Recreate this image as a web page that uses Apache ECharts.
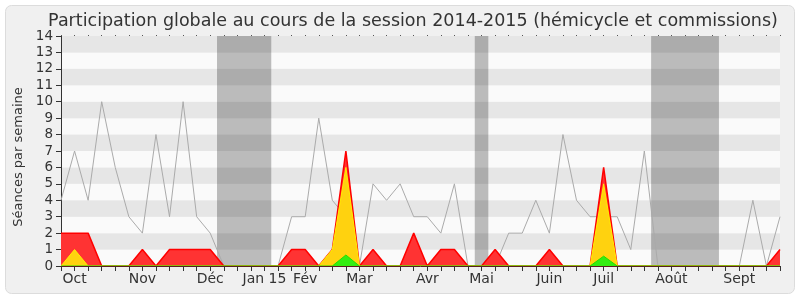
<!DOCTYPE html>
<html>
<head>
<meta charset="utf-8">
<script src="https://cdn.jsdelivr.net/npm/echarts@6/dist/echarts.min.js"></script>
<style>
html,body{margin:0;padding:0;background:#fff;}
#c{width:800px;height:300px;}
</style>
</head>
<body>
<div id="c"></div>
<script>
// Weekly data, session 2014-2015 (54 weeks)
var totalSeances = [4,7,4,10,6,3,2,8,3,10,3,2,0,0,0,0,0,3,3,9,4,3,0,5,4,5,3,3,2,5,0,0,0,2,2,4,2,8,4,3,3,3,1,7,0,0,0,0,0,0,0,4,0,3];
var presences    = [2,2,2,0,0,0,1,0,1,1,1,1,0,0,0,0,0,1,1,0,1,7,0,1,0,0,2,0,1,1,0,0,1,0,0,0,1,0,0,0,6,0,0,0,0,0,0,0,0,0,0,0,0,1];
var interventions= [0,1,0,0,0,0,0,0,0,0,0,0,0,0,0,0,0,0,0,0,1,6,0,0,0,0,0,0,0,0,0,0,0,0,0,0,0,0,0,0,5,0,0,0,0,0,0,0,0,0,0,0,0,0];
var questions    = [0,0,0,0,0,0,0,0,0,0,0,0,0,0,0,0,0,0,0,0,0,0.67,0,0,0,0,0,0,0,0,0,0,0,0,0,0,0,0,0,0,0.6,0,0,0,0,0,0,0,0,0,0,0,0,0];
var monthLabels = {1:'Oct',6:'Nov',11:'Déc',15:'Jan 15',18:'Fév',22:'Mar',27:'Avr',31:'Mai',36:'Juin',40:'Juil',45:'Août',50:'Sept'};
var vacances = [[11.5,15.5],[30.5,31.5],[43.5,48.5]];
var titre = 'Participation globale au cours de la session 2014-2015 (hémicycle et commissions)';
var yLabel = 'Séances par semaine';

function pts(arr){ return arr.map(function(v,i){ return [i,v]; }); }

var chart = echarts.init(document.getElementById('c'), null, {renderer:'canvas'});
var font = 'DejaVu Sans';
chart.setOption({
  animation:false,
  backgroundColor:'#ffffff',
  textStyle:{fontFamily:font},
  graphic:[
    {type:'rect', z:-100, shape:{x:5.5,y:5.5,width:789,height:288,r:6}, style:{fill:'#f0f0f0', stroke:'#dcdcdc', lineWidth:1}},
    {type:'text', z:10, x:19, y:157, rotation:Math.PI/2, style:{text:yLabel, fontFamily:font, fontSize:13, fill:'#333', align:'center', verticalAlign:'middle'}}
  ],
  title:{text:titre, left:408, top:7, textAlign:'center', textStyle:{fontFamily:font, fontSize:17.5, fontWeight:'normal', color:'#333'}},
  grid:{left:61, right:20, top:36, bottom:34},
  xAxis:[{
    type:'value', min:0, max:53, interval:1, z:10,
    axisLine:{show:true, lineStyle:{color:'#5a1e1e', width:1}},
    axisTick:{show:true, length:5, lineStyle:{color:'#333'}},
    splitLine:{show:false},
    axisLabel:{show:true, interval:0, showMinLabel:true, showMaxLabel:true, hideOverlap:false, margin:6, fontSize:14, color:'#333', fontFamily:font,
      formatter:function(v){ return monthLabels[v] || ''; }}
  },{
    type:'value', position:'top', min:0, max:53, interval:1,
    axisLine:{show:false}, axisLabel:{show:false}, splitLine:{show:false},
    axisTick:{show:true, length:1, lineStyle:{color:'#555'}}
  }],
  yAxis:{
    type:'value', min:0, max:14, interval:1,
    axisLine:{show:true, lineStyle:{color:'#333'}},
    axisTick:{show:true, length:5, lineStyle:{color:'#333'}},
    axisLabel:{fontSize:13.5, color:'#333', margin:8, fontFamily:font},
    splitLine:{show:false},
    splitArea:{show:true, areaStyle:{color:['#fafafa','#e6e6e6']}}
  },
  series:[
    {type:'line', data:[], z:1, silent:true,
     markArea:{silent:true, itemStyle:{color:'rgba(0,0,0,0.25)'}, data:vacances.map(function(r){ return [{xAxis:r[0]},{xAxis:r[1]}]; })}},
    {type:'line', data:pts(totalSeances), z:2, symbol:'none', lineStyle:{color:'#aaaaaa', width:1}},
    {type:'line', data:pts(presences), z:3, symbol:'none', lineStyle:{color:'#ff0000', width:1.5}, areaStyle:{color:'#ff3333', opacity:1}},
    {type:'line', data:pts(interventions), z:4, symbol:'none', lineStyle:{color:'#ffee00', width:1}, areaStyle:{color:'#ffd20f', opacity:1}},
    {type:'line', data:pts(questions), z:5, symbol:'none', lineStyle:{color:'#22dd00', width:1}, areaStyle:{color:'#33ee11', opacity:1}}
  ]
});
</script>
</body>
</html>
